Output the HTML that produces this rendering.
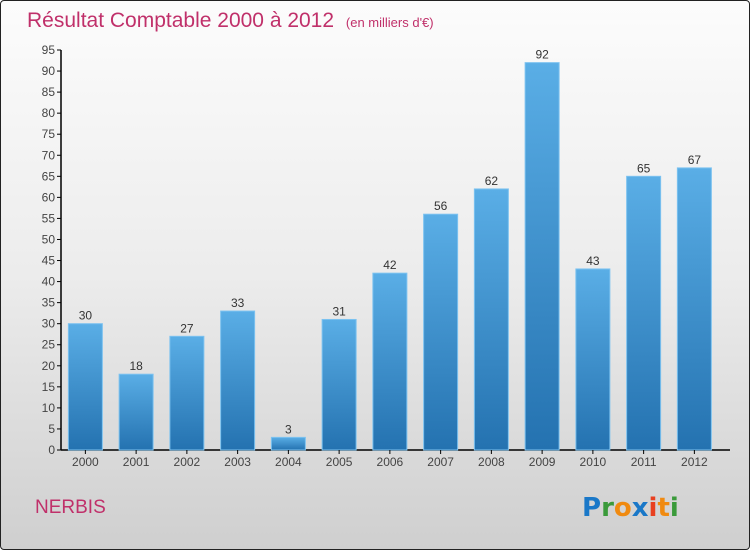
<!DOCTYPE html>
<html><head><meta charset="utf-8"><style>
html,body{margin:0;padding:0}
body{width:750px;height:550px;overflow:hidden;font-family:"Liberation Sans",sans-serif}
#wrap{position:absolute;left:0;top:0;width:748px;height:548px;border:1px solid #222;border-radius:4px;background:linear-gradient(#fcfcfc 0%,#ececec 50%,#cfcfcf 100%)}
</style></head><body>
<div id="wrap">
<svg id="chart" width="750" height="550" style="position:absolute;left:-1px;top:-1px">
<defs><linearGradient id="bg" x1="0" y1="0" x2="0" y2="1"><stop offset="0" stop-color="#5aaee6"/><stop offset="1" stop-color="#2472b0"/></linearGradient></defs>
<text x="27" y="27" font-size="21" fill="#c0306a">Résultat Comptable 2000 à 2012 <tspan font-size="13" dx="6">(en milliers d'€)</tspan></text>
<text x="35" y="513" font-size="19" fill="#c0306a">NERBIS</text>
<g font-size="26" font-weight="bold" font-family="'DejaVu Sans',sans-serif">
<text x="582" y="516"><tspan fill="#1a78c8">P</tspan><tspan fill="#3a9a3a">r</tspan><tspan fill="#f08a10">o</tspan><tspan fill="#1a78c8">x</tspan><tspan fill="#e84020">i</tspan><tspan fill="#f08a10">t</tspan><tspan fill="#3a9a3a">i</tspan></text>
</g>
<g id="plot"></g>
</svg>
</div>
<script>
const categories=["2000","2001","2002","2003","2004","2005","2006","2007","2008","2009","2010","2011","2012"];
const values=[30,18,27,33,3,31,42,56,62,92,43,65,67];
const yTicks=[0,5,10,15,20,25,30,35,40,45,50,55,60,65,70,75,80,85,90,95];
const NS="http://www.w3.org/2000/svg";
const g=document.getElementById('plot');
const x0=60,step=50.75,barW=34,yBase=450,yTop=50,yMax=95;
function y(v){return yBase-(v/yMax)*(yBase-yTop);}
function xc(i){return x0+step*(i+0.5);}
function mk(t,a,txt){const e=document.createElementNS(NS,t);for(const k in a)e.setAttribute(k,a[k]);if(txt!==undefined)e.textContent=txt;g.appendChild(e);return e;}
const yAxis=mk('line',{x1:61,y1:yTop,x2:61,y2:yBase,stroke:'#000','stroke-width':1.5});


const xAxis=mk('line',{x1:61,y1:yBase,x2:730,y2:yBase,stroke:'#000','stroke-width':1.5});


yTicks.forEach(t=>{
 const tk=mk('line',{x1:57,y1:y(t),x2:61,y2:y(t),stroke:'#000'});
 
 
 const lb=mk('text',{x:55,y:y(t)+4,'font-size':12,fill:'#444','text-anchor':'end'},String(t));
 
 
});
categories.forEach((c,i)=>{
 const v=values[i];
 const r=mk('rect',{x:xc(i)-barW/2,y:y(v),width:barW,height:yBase-y(v),fill:'url(#bg)',stroke:'#7cc2f0','stroke-width':1});
 
 
 const vl=mk('text',{x:xc(i),y:y(v)-4,'font-size':12,fill:'#333','text-anchor':'middle'},String(v));
 
 
 const tk=mk('line',{x1:xc(i),y1:yBase,x2:xc(i),y2:yBase+4,stroke:'#000'});
 
 
 const xl=mk('text',{x:xc(i),y:466,'font-size':12,fill:'#444','text-anchor':'middle'},c);
 
 
});
</script>
</body></html>
